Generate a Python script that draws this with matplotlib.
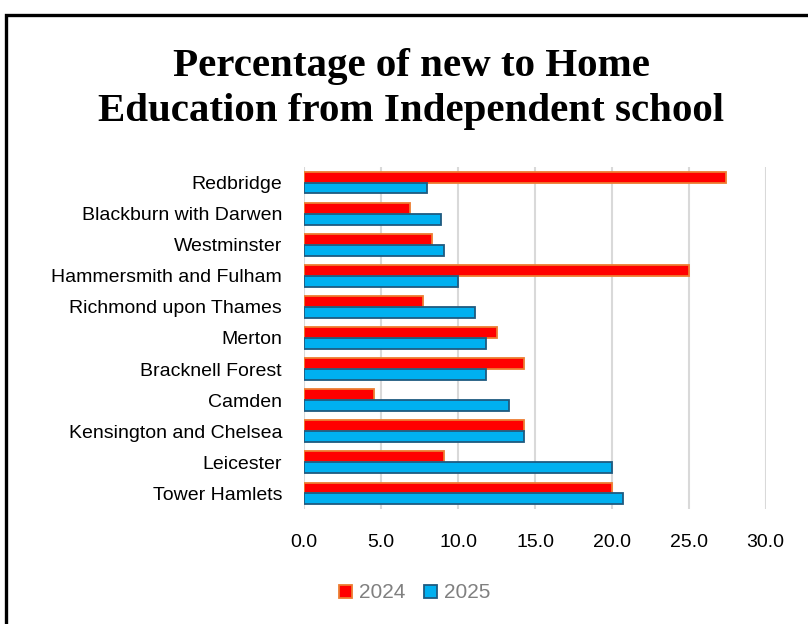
import numpy as np
import matplotlib.pyplot as plt
from matplotlib.patches import Rectangle, Patch

# data
councils = ["Redbridge", "Blackburn with Darwen", "Westminster",
            "Hammersmith and Fulham", "Richmond upon Thames", "Merton",
            "Bracknell Forest", "Camden", "Kensington and Chelsea",
            "Leicester", "Tower Hamlets"]
pct_2024 = [27.4, 6.9, 8.3, 25.0, 7.7, 12.5, 14.3, 4.5, 14.3, 9.1, 20.0]
pct_2025 = [8.0, 8.9, 9.1, 10.0, 11.1, 11.8, 11.8, 13.3, 14.3, 20.0, 20.7]
series = ["2024", "2025"]
x_ticks = [0, 5, 10, 15, 20, 25, 30]

red, red_edge = "#FF0000", "#ED7D31"
blue, blue_edge = "#00B0F0", "#1F5A80"

plt.rcParams['font.family'] = ['Liberation Sans', 'DejaVu Sans']

fig = plt.figure(figsize=(8.08, 6.24), dpi=100)
fig.patch.set_facecolor("white")

# chart border (only top & left visible in the crop)
fig.patches.append(Rectangle((6/808, -0.2), 1.5, 1.2 - 14.5/624,
                             transform=fig.transFigure, fill=False,
                             edgecolor="black", linewidth=2.4))

ax = fig.add_axes([304.3/808, 1 - 509/624, (765.7-304.3)/808, (509-167)/624])

y = np.arange(len(councils))
h = 0.35
ax.barh(y - h/2, pct_2024, height=h, color=red, edgecolor=red_edge, linewidth=1.3, zorder=3)
ax.barh(y + h/2, pct_2025, height=h, color=blue, edgecolor=blue_edge, linewidth=1.3, zorder=3)

ax.set_xlim(0, 30)
ax.set_ylim(len(councils) - 0.5, -0.5)
ax.set_xticks(x_ticks)
ax.set_xticklabels([f"{v:.1f}" for v in x_ticks], fontsize=14)
ax.set_yticks(y)
ax.set_yticklabels(councils, fontsize=14)
ax.tick_params(axis='both', length=0)
ax.tick_params(axis='x', pad=18)
ax.tick_params(axis='y', pad=16)
ax.grid(axis='x', color="#D9D9D9", linewidth=1.5, zorder=0)
for s in ax.spines.values():
    s.set_visible(False)

fig.text(411/808, 1 - 89/624, "Percentage of new to Home\nEducation from Independent school",
         ha='center', va='center', fontsize=29.5, fontweight='bold',
         family=['Liberation Serif', 'DejaVu Serif'], linespacing=1.32)

handles = [Patch(facecolor=red, edgecolor=red_edge, linewidth=1.3),
           Patch(facecolor=blue, edgecolor=blue_edge, linewidth=1.3)]
leg = fig.legend(handles, series, loc='center', bbox_to_anchor=(415/808, 1 - 593/624),
                 ncol=2, frameon=False, fontsize=15, handlelength=0.6, handleheight=0.6,
                 handletextpad=0.35, columnspacing=0.9)
for t in leg.get_texts():
    t.set_color("#808080")

fig.savefig("out.png", dpi=100)
